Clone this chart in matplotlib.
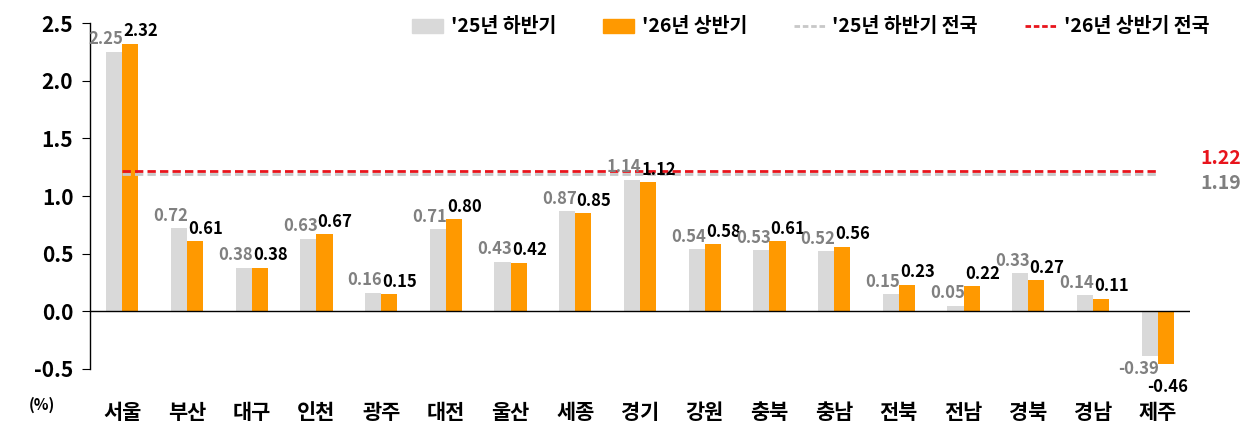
import numpy as np
import matplotlib.pyplot as plt
from matplotlib.lines import Line2D
from matplotlib.patches import Patch

plt.rcParams['font.family'] = ['Noto Sans CJK KR', 'DejaVu Sans']
plt.rcParams['font.weight'] = 'bold'

regions = ['서울', '부산', '대구', '인천', '광주', '대전', '울산', '세종', '경기',
           '강원', '충북', '충남', '전북', '전남', '경북', '경남', '제주']
h2_25 = [2.25, 0.72, 0.38, 0.63, 0.16, 0.71, 0.43, 0.87, 1.14,
         0.54, 0.53, 0.52, 0.15, 0.05, 0.33, 0.14, -0.39]
h1_26 = [2.32, 0.61, 0.38, 0.67, 0.15, 0.80, 0.42, 0.85, 1.12,
         0.58, 0.61, 0.56, 0.23, 0.22, 0.27, 0.11, -0.46]
nat_25 = 1.19
nat_26 = 1.22

gray = '#d9d9d9'
orange = '#ff9900'
red = '#e8141c'

fig = plt.figure(figsize=(12.58, 4.47), dpi=100)
ax = fig.add_axes([0.0715, 0.1745, 0.8745, 0.774])

x = np.arange(len(regions))
w = 0.25
ax.bar(x - w / 2, h2_25, w, color=gray, zorder=2)
ax.bar(x + w / 2, h1_26, w, color=orange, zorder=2)

# national average lines
ax.hlines(nat_25, 0, len(regions) - 1, colors='#c8c8c8', linestyles=(0, (3, 1.5)), lw=2, zorder=3)
ax.hlines(nat_26, 0, len(regions) - 1, colors=red, linestyles=(0, (3, 1.5)), lw=2, zorder=3)
ax.text(1.028, nat_26 + 0.025, f'{nat_26:.2f}', transform=ax.get_yaxis_transform(),
        color=red, fontsize=14, fontweight='bold', ha='center', va='bottom')
ax.text(1.028, nat_25 + 0.005, f'{nat_25:.2f}', transform=ax.get_yaxis_transform(),
        color='#7f7f7f', fontsize=14, fontweight='bold', ha='center', va='top')

# value labels
for i in range(len(regions)):
    a, b = h2_25[i], h1_26[i]
    if a >= 0:
        ax.text(x[i] + 0.02, a + 0.03, f'{a:.2f}', color='#808080',
                fontsize=12, fontweight='bold', ha='right', va='bottom', zorder=4)
    else:
        ax.text(x[i] + 0.02, a - 0.03, f'{a:.2f}', color='#808080',
                fontsize=12, fontweight='bold', ha='right', va='top', zorder=4)
    if b >= 0:
        ax.text(x[i] + 0.02, b + 0.03, f'{b:.2f}', color='black',
                fontsize=12, fontweight='bold', ha='left', va='bottom', zorder=4)
    else:
        ax.text(x[i] + 0.47, b - 0.12, f'{b:.2f}', color='black',
                fontsize=12, fontweight='bold', ha='right', va='top', zorder=4)

ax.axhline(0, color='black', lw=1, zorder=3)
ax.set_xlim(-0.5, len(regions) - 0.5)
ax.set_ylim(-0.5, 2.5)
ax.set_yticks(np.arange(-0.5, 2.51, 0.5))
ax.set_yticklabels([f'{v:.1f}' for v in np.arange(-0.5, 2.51, 0.5)], fontsize=15, fontweight='bold')
ax.set_xticks(x)
ax.set_xticklabels(regions, fontsize=15, fontweight='bold')
ax.tick_params(axis='x', length=0, pad=24)
ax.tick_params(axis='y', length=6, direction='out', pad=6)
for s in ['top', 'right', 'bottom']:
    ax.spines[s].set_visible(False)
ax.spines['left'].set_linewidth(1)

fig.text(0.033, 0.095, '(%)', fontsize=11, fontweight='bold', ha='center', va='center')

handles = [Patch(color=gray), Patch(color=orange),
           Line2D([], [], color='#c8c8c8', ls=(0, (2, 1)), lw=2),
           Line2D([], [], color=red, ls=(0, (2, 1)), lw=2)]
labels = ["'25년 하반기", "'26년 상반기", "'25년 하반기 전국", "'26년 상반기 전국"]
fig.legend(handles, labels, loc='upper right', bbox_to_anchor=(0.975, 1.0), ncol=4,
           frameon=False, handlelength=1.6, handletextpad=0.4,
           columnspacing=2.4, prop={'weight': 'bold', 'size': 14})

fig.savefig('out.png', dpi=100)
